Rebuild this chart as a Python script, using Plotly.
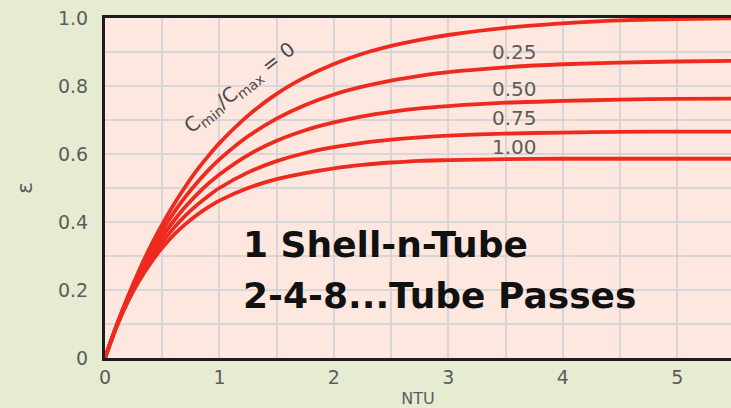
import plotly.graph_objects as go

# Effectiveness vs NTU, one shell pass with 2, 4, 8... tube passes
ntu = [0, 0.1, 0.2, 0.3, 0.4, 0.5, 0.6, 0.7, 0.8, 0.9, 1.0, 1.25, 1.5, 1.75, 2.0,
       2.25, 2.5, 2.75, 3.0, 3.5, 4.0, 4.5, 5.0, 5.5]

eps_cr_000 = [0, 0.095, 0.181, 0.259, 0.330, 0.393, 0.451, 0.503, 0.551, 0.593, 0.632, 0.713,
              0.777, 0.826, 0.865, 0.895, 0.918, 0.936, 0.950, 0.971, 0.984, 0.993, 0.997, 0.999]
eps_cr_025 = [0, 0.094, 0.177, 0.251, 0.316, 0.375, 0.427, 0.473, 0.514, 0.551, 0.584, 0.652,
              0.704, 0.744, 0.775, 0.798, 0.816, 0.830, 0.841, 0.855, 0.864, 0.869, 0.872, 0.874]
eps_cr_050 = [0, 0.093, 0.173, 0.243, 0.304, 0.357, 0.403, 0.444, 0.480, 0.512, 0.540, 0.597,
              0.639, 0.670, 0.693, 0.711, 0.724, 0.734, 0.741, 0.751, 0.756, 0.760, 0.762, 0.763]
eps_cr_075 = [0, 0.092, 0.169, 0.235, 0.292, 0.340, 0.382, 0.418, 0.449, 0.476, 0.500, 0.546,
              0.579, 0.603, 0.620, 0.633, 0.642, 0.649, 0.654, 0.660, 0.663, 0.665, 0.666, 0.666]
eps_cr_100 = [0, 0.091, 0.166, 0.228, 0.280, 0.324, 0.362, 0.393, 0.420, 0.443, 0.463, 0.500,
              0.526, 0.544, 0.558, 0.568, 0.575, 0.580, 0.582, 0.585, 0.586, 0.586, 0.586, 0.586]

series = [eps_cr_000, eps_cr_025, eps_cr_050, eps_cr_075, eps_cr_100]

curve_labels = ["0.25", "0.50", "0.75", "1.00"]
curve_label_y = [0.900, 0.790, 0.705, 0.620]

x_ticks = [0, 1, 2, 3, 4, 5]
y_ticks = [0, 0.2, 0.4, 0.6, 0.8, 1.0]
y_tick_text = ["0", "0.2", "0.4", "0.6", "0.8", "1.0"]

RED = "#ee2a1f"
GREY = "#5c5c5c"
GRID = "#d9d4d7"
FONT = "DejaVu Sans"

fig = go.Figure()
for eps in series:
    fig.add_trace(go.Scatter(
        x=ntu, y=eps, mode="lines",
        line=dict(color=RED, width=3.8, shape="spline", smoothing=0.8),
        hoverinfo="skip", showlegend=False,
    ))

annotations = []
for text, y in zip(curve_labels, curve_label_y):
    annotations.append(dict(
        x=3.58, y=y, xref="x", yref="y", text=text, showarrow=False,
        font=dict(family=FONT, size=20, color=GREY),
    ))

annotations.append(dict(
    x=1.18, y=0.795, xref="x", yref="y",
    text="C<sub>min</sub>/C<sub>max</sub> = 0", showarrow=False, textangle=-38,
    font=dict(family=FONT, size=20, color="#4a4a4a"),
))

annotations.append(dict(
    x=1.19, y=0.335, xref="x", yref="y", xanchor="left",
    text="<b>1 Shell-n-Tube</b>", showarrow=False,
    font=dict(family=FONT, size=36, color="#111111"),
))
annotations.append(dict(
    x=1.19, y=0.183, xref="x", yref="y", xanchor="left",
    text="<b>2-4-8...Tube Passes</b>", showarrow=False,
    font=dict(family=FONT, size=36, color="#111111"),
))

fig.update_layout(
    width=731, height=408,
    margin=dict(l=105, r=0, t=18, b=50),
    paper_bgcolor="#e6ecd2",
    plot_bgcolor="#fde7de",
    annotations=annotations,
    xaxis=dict(
        range=[0, 5.47], tickvals=x_ticks,
        tickfont=dict(family=FONT, size=19, color=GREY),
        ticks="",
        showgrid=True, gridcolor=GRID, gridwidth=1.5,
        minor=dict(dtick=0.5, showgrid=True, gridcolor=GRID, gridwidth=1.5),
        showline=True, linecolor="#1e1e1e", linewidth=2.5, mirror=True,
        zeroline=False,
        title=dict(text="NTU", font=dict(family=FONT, size=16, color=GREY), standoff=7),
    ),
    yaxis=dict(
        range=[0, 1.0], tickvals=y_ticks, ticktext=y_tick_text,
        tickfont=dict(family=FONT, size=19, color=GREY),
        ticks="outside", ticklen=10, tickcolor="rgba(0,0,0,0)",
        showgrid=True, gridcolor=GRID, gridwidth=1.5,
        minor=dict(dtick=0.1, showgrid=True, gridcolor=GRID, gridwidth=1.5),
        showline=True, linecolor="#1e1e1e", linewidth=3,
        zeroline=False,
        title=dict(text="ε", font=dict(family=FONT, size=22, color=GREY), standoff=20),
    ),
)

fig.write_html("out.html")
